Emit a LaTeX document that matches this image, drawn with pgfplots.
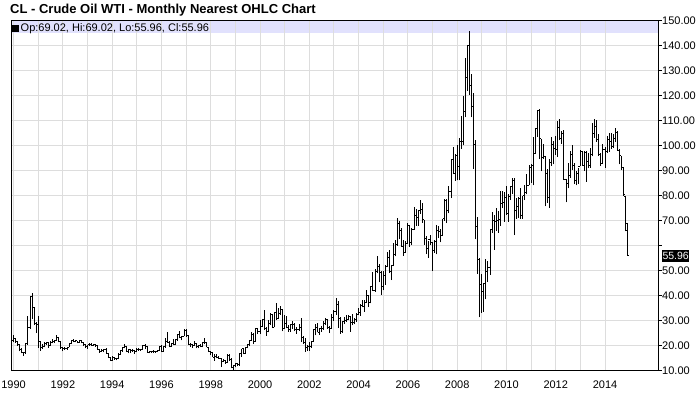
\documentclass[border=0pt]{standalone}
\usepackage{fontspec}
\setmainfont{Liberation Sans}
\usepackage{pgfplots}
\usepackage{pgfplotstable}
\pgfplotsset{compat=1.18}
\definecolor{gridgray}{RGB}{221,221,221}
\definecolor{bandblue}{RGB}{225,225,253}

% open tick to the left, close tick to the right
\pgfdeclareplotmark{ohlcopen}{\pgfpathmoveto{\pgfpoint{-1.5bp}{0pt}}\pgfpathlineto{\pgfpoint{0pt}{0pt}}\pgfusepathqstroke}
\pgfdeclareplotmark{ohlcclose}{\pgfpathmoveto{\pgfpoint{0pt}{0pt}}\pgfpathlineto{\pgfpoint{1.5bp}{0pt}}\pgfusepathqstroke}

% monthly bars, Jan 1990 - Dec 2014: open high low close
\pgfplotstableread{
o h l c
22.0 24.3 21.4 22.7
22.7 23.2 21.1 21.5
21.5 21.8 19.9 20.3
20.3 20.6 17.7 18.5
18.5 19.2 16.9 17.4
17.4 17.6 15.9 17.1
17.1 21.1 16.7 20.7
20.7 31.9 20.4 27.3
27.3 39.5 26.7 39.5
39.5 41.1 30.5 35.2
35.2 35.6 28.2 28.9
28.9 29.3 25.0 28.4
28.4 32.0 19.0 21.5
21.5 22.0 17.9 19.2
19.2 20.5 18.6 19.6
19.6 21.3 19.3 20.8
20.8 21.6 20.2 21.2
21.2 21.3 19.2 20.2
20.2 21.9 20.0 21.4
21.4 22.5 20.9 21.7
21.7 22.4 21.0 22.2
22.2 24.1 22.0 23.3
23.3 23.6 21.3 21.5
21.5 21.6 18.7 19.1
19.1 19.6 17.7 18.9
18.9 19.4 18.2 18.7
18.7 19.6 18.3 19.4
19.4 20.9 19.3 20.8
20.8 22.3 20.6 22.1
22.1 22.8 21.4 21.6
21.6 22.3 21.3 21.9
21.9 22.0 20.9 21.4
21.4 22.3 21.2 21.9
21.9 22.3 20.9 21.3
21.3 21.5 19.8 20.3
20.3 20.5 18.9 19.5
19.5 20.4 18.6 20.3
20.3 21.0 19.9 20.4
20.4 20.9 19.8 20.2
20.2 20.8 19.9 20.4
20.4 20.7 19.6 19.9
19.9 20.0 18.4 18.5
18.5 18.7 17.1 17.8
17.8 18.5 17.6 18.1
18.1 18.8 17.3 18.6
18.6 19.2 16.8 16.9
16.9 17.1 15.0 15.4
15.4 15.5 13.9 14.2
14.2 15.8 14.0 15.2
15.2 15.5 14.3 14.8
14.8 15.0 14.1 14.7
14.7 17.2 14.6 16.4
16.4 18.4 16.3 17.9
17.9 19.6 17.6 19.1
19.1 20.7 18.9 19.6
19.6 19.8 17.4 17.6
17.6 18.5 16.9 18.4
18.4 18.5 17.0 18.2
18.2 18.6 17.6 18.0
18.0 18.0 16.8 17.8
17.8 18.9 17.4 18.4
18.4 18.9 17.9 18.5
18.5 18.7 17.8 18.6
18.6 20.4 18.5 19.9
19.9 20.5 18.5 19.7
19.7 19.8 17.3 17.4
17.4 17.9 16.9 17.6
17.6 18.0 17.2 17.8
17.8 18.1 17.0 17.5
17.5 17.8 17.1 17.6
17.6 18.4 17.4 18.2
18.2 19.7 18.0 19.6
19.6 20.3 17.3 17.7
17.7 19.9 17.5 19.5
19.5 23.0 19.2 21.5
21.5 25.5 21.0 21.2
21.2 21.9 19.3 19.8
19.8 21.2 19.6 20.9
20.9 22.5 20.2 20.4
20.4 22.5 20.3 22.3
22.3 24.8 22.0 24.4
24.4 25.9 22.9 23.4
23.4 24.0 22.1 23.8
23.8 26.6 23.7 25.9
25.9 26.6 23.6 24.2
24.2 24.3 20.2 20.3
20.3 21.2 19.5 20.4
20.4 20.8 19.2 20.2
20.2 21.8 19.9 20.9
20.9 21.2 18.9 19.8
19.8 20.4 18.9 20.1
20.1 20.8 19.3 19.6
19.6 21.5 19.3 21.2
21.2 22.9 20.6 21.1
21.1 21.5 19.3 19.3
19.3 19.5 17.4 17.6
17.6 18.0 16.1 17.2
17.2 17.3 15.4 15.4
15.4 16.7 14.0 15.6
15.6 16.6 14.9 15.4
15.4 15.9 14.6 14.9
14.9 15.1 11.4 13.7
13.7 14.7 13.6 14.1
14.1 14.2 12.7 13.4
13.4 16.6 13.2 16.1
16.1 16.8 13.8 14.4
14.4 14.9 10.9 11.2
11.2 12.4 10.4 12.1
12.1 12.9 11.3 12.8
12.8 13.1 11.7 12.3
12.3 16.8 11.9 16.8
16.8 18.8 15.6 18.7
18.7 19.0 16.6 16.8
16.8 19.4 16.6 19.3
19.3 20.7 18.9 20.5
20.5 22.3 19.7 22.1
22.1 25.3 21.9 24.5
24.5 24.9 20.6 21.8
21.8 26.9 21.7 26.7
26.7 27.2 24.5 25.6
25.6 30.1 24.6 27.6
27.6 30.7 27.4 30.4
30.4 34.4 26.4 26.9
26.9 27.3 23.9 25.7
25.7 30.1 25.3 29.0
29.0 33.0 28.3 32.5
32.5 32.6 27.1 27.4
27.4 33.1 27.3 33.1
33.1 37.2 30.3 30.8
30.8 35.1 30.6 32.7
32.7 36.0 32.3 34.4
34.4 34.6 25.7 26.8
26.8 32.4 26.6 28.7
28.7 32.0 26.9 27.4
27.4 28.3 25.5 26.3
26.3 28.7 25.4 28.5
28.5 29.7 26.8 28.4
28.4 29.0 25.8 26.3
26.3 27.5 24.8 26.4
26.4 28.8 25.9 27.2
27.2 31.0 21.4 23.4
23.4 23.9 20.7 21.2
21.2 23.2 17.5 19.4
19.4 20.4 17.8 19.8
19.8 21.6 17.9 19.5
19.5 21.9 19.2 21.7
21.7 26.5 21.5 26.3
26.3 28.5 24.1 27.3
27.3 29.0 25.3 25.3
25.3 27.2 24.3 26.9
26.9 27.8 25.6 27.0
27.0 29.9 26.3 28.9
28.9 31.0 28.3 30.4
30.4 30.8 26.6 27.2
27.2 27.8 25.0 26.9
26.9 32.7 26.6 31.2
31.2 34.3 30.0 33.5
33.5 39.0 32.3 36.6
36.6 38.0 27.0 31.0
31.0 31.4 24.8 25.8
25.8 29.8 25.0 29.6
29.6 31.6 28.7 30.2
30.2 32.3 29.6 30.5
30.5 32.4 30.3 31.6
31.6 31.8 25.6 29.2
29.2 32.5 28.2 29.1
29.1 31.0 28.5 30.4
30.4 33.0 29.5 32.5
32.5 35.2 32.2 33.1
33.1 36.5 32.0 36.2
36.2 38.4 35.3 35.8
35.8 38.4 33.6 37.4
37.4 42.3 37.1 39.9
39.9 40.0 35.4 37.1
37.1 44.0 36.9 43.8
43.8 49.4 41.9 42.1
42.1 50.5 41.6 49.6
49.6 55.7 48.9 51.8
51.8 52.8 45.3 49.1
49.1 49.8 40.3 43.5
43.5 50.0 42.1 48.2
48.2 52.1 44.4 51.8
51.8 57.6 51.4 55.4
55.4 58.3 49.2 49.7
49.7 52.1 46.2 52.0
52.0 60.9 51.8 56.5
56.5 62.1 55.7 60.6
60.6 70.9 60.0 68.9
68.9 69.9 62.5 66.2
66.2 67.0 59.6 59.8
59.8 62.1 56.0 57.3
57.3 61.9 57.2 61.0
61.0 69.2 60.8 67.9
67.9 68.4 59.5 61.4
61.4 67.1 60.1 66.6
66.6 75.4 66.3 71.9
71.9 74.5 67.9 71.3
71.3 73.9 68.0 73.9
73.9 78.4 72.7 74.4
74.4 77.2 69.2 70.3
70.3 70.3 60.4 62.9
62.9 64.0 56.6 58.7
58.7 62.0 55.1 62.5
62.5 64.3 60.3 61.1
61.1 61.4 49.9 58.1
58.1 62.3 57.1 61.8
61.8 68.1 56.5 65.9
65.9 67.9 63.0 65.7
65.7 66.6 61.3 64.0
64.0 70.7 64.0 70.7
70.7 78.8 69.9 78.2
78.2 78.8 69.0 74.0
74.0 83.9 72.9 81.7
81.7 94.7 79.0 94.5
94.5 99.3 88.6 88.7
88.7 96.8 85.9 96.0
96.0 100.1 86.1 91.8
91.8 103.1 86.1 101.8
101.8 111.8 98.7 101.6
101.6 119.9 100.1 113.5
113.5 135.1 111.3 127.4
127.4 140.4 122.0 140.0
140.0 146.0 120.4 124.1
124.1 128.6 111.3 115.5
115.5 121.0 90.5 100.6
100.6 102.3 62.5 67.8
67.8 71.3 48.7 54.4
54.4 54.9 31.3 44.6
44.6 48.6 33.2 41.7
41.7 45.0 33.6 44.8
44.8 54.7 38.5 49.7
49.7 53.9 45.4 51.1
51.1 66.7 48.3 66.3
66.3 73.4 65.0 69.9
69.9 72.4 58.3 69.5
69.5 75.0 66.0 70.0
70.0 74.0 65.1 70.6
70.6 82.0 68.0 77.0
77.0 82.0 75.0 77.3
77.3 81.4 69.5 79.4
79.4 84.0 72.4 72.9
72.9 80.6 69.5 79.7
79.7 83.9 78.2 83.8
83.8 87.2 80.6 86.2
86.2 87.2 64.2 74.0
74.0 79.0 70.8 75.6
75.6 79.4 71.0 79.0
79.0 82.9 70.8 71.9
71.9 80.0 70.8 80.0
80.0 84.4 78.2 81.4
81.4 88.6 80.5 84.1
84.1 92.1 84.1 91.4
91.4 92.6 85.1 92.2
92.2 103.4 84.1 97.0
97.0 106.9 96.6 106.7
106.7 113.9 103.4 113.9
113.9 114.8 94.6 102.7
102.7 102.7 89.7 95.4
95.4 100.6 94.6 95.7
95.7 95.9 75.7 88.8
88.8 90.5 77.1 79.2
79.2 94.7 75.0 93.2
93.2 103.4 92.0 100.4
100.4 101.8 92.5 98.8
98.8 103.7 96.3 98.5
98.5 109.8 95.4 107.1
107.1 110.6 102.1 103.0
103.0 106.0 100.7 104.9
104.9 106.4 86.2 86.5
86.5 86.8 77.3 85.0
85.0 92.9 82.9 88.1
88.1 97.9 87.1 96.5
96.5 100.4 90.2 92.2
92.2 93.0 84.6 86.2
86.2 90.0 84.1 88.9
88.9 91.0 84.7 91.8
91.8 98.2 91.8 97.5
97.5 98.0 92.0 92.1
92.1 97.8 90.0 97.2
97.2 97.9 85.6 93.5
93.5 97.0 90.9 92.0
92.0 99.0 91.1 96.6
96.6 108.9 95.7 105.0
105.0 110.5 103.0 107.7
107.7 110.2 101.6 102.3
102.3 104.7 95.9 96.4
96.4 96.9 91.8 92.7
92.7 100.8 92.6 98.4
98.4 99.4 91.2 97.5
97.5 104.0 97.0 102.6
102.6 105.2 97.4 101.6
101.6 104.9 98.7 99.7
99.7 104.5 99.2 102.7
102.7 107.2 101.6 105.4
105.4 105.7 97.9 98.2
98.2 98.8 92.5 96.0
96.0 96.0 90.4 91.2
91.2 91.4 80.0 80.5
79.5 79.7 65.7 66.2
69.02 69.02 55.96 55.96
}\oil

\begin{document}
\begin{tikzpicture}
\begin{axis}[
    set layers,
    scale only axis,
    width=647bp, height=350bp,
    at={(11bp,40.3bp)}, anchor=south west,
    xmin=-1.27, xmax=313.8,
    ymin=10, ymax=150,
    clip mode=individual,
    axis line style={line width=1bp, black},
    xtick={0,24,...,288},
    xticklabels={1990,1992,1994,1996,1998,2000,2002,2004,2006,2008,2010,2012,2014},
    minor xtick={12,36,...,276},
    xtick pos=bottom,
    ytick={10,20,...,150},
    yticklabels={10.00,20.00,30.00,40.00,50.00,,70.00,80.00,90.00,100.00,110.00,120.00,130.00,140.00,150.00},
    ytick pos=right,
    yticklabel pos=right,
    tick align=outside,
    major tick length=3.5bp,
    minor tick length=0pt,
    xtick style={draw=none},
    ytick style={line width=1bp, black},
    grid=both,
    major grid style={line width=1bp, gridgray},
    minor grid style={line width=1bp, gridgray},
    ticklabel style={font=\fontsize{11bp}{13bp}\selectfont},
    xticklabel style={anchor=north, inner sep=0pt, yshift=-6bp},
    yticklabel style={anchor=west, inner sep=0pt, xshift=0.5bp},
]
\begin{pgfonlayer}{axis background}
\fill[bandblue] (axis cs:-1.27,145.1) rectangle (axis cs:313.8,150);
\end{pgfonlayer}
% high-low range
\addplot[draw=none, mark=none,
    error bars/.cd, y dir=plus, y explicit, error mark=none,
    error bar style={draw=black, line width=1bp}]
    table[x expr=\coordindex, y=l, y error expr=\thisrow{h}-\thisrow{l}] {\oil};
% open
\addplot[black, only marks, mark=ohlcopen, mark options={line width=1bp}]
    table[x expr=\coordindex, y=o] {\oil};
% close
\addplot[black, only marks, mark=ohlcclose, mark options={line width=1bp}]
    table[x expr=\coordindex, y=c] {\oil};
\coordinate (lastlab) at (axis cs:313.8,55.96);
\end{axis}
\node[anchor=base west, inner sep=0pt, font=\bfseries\fontsize{13bp}{15bp}\selectfont]
    at (10bp,397.5bp) {CL - Crude Oil WTI - Monthly Nearest OHLC Chart};
\fill[black] (12bp,379bp) rectangle (18.5bp,385.5bp);
\node[anchor=base west, inner sep=0pt, font=\fontsize{11bp}{13bp}\selectfont]
    at (20.5bp,379.3bp) {Op:69.02, Hi:69.02, Lo:55.96, Cl:55.96};
\node[anchor=west, fill=black, text=white, inner xsep=0.6bp, inner ysep=0pt,
    minimum height=12bp, font=\fontsize{10.5bp}{12bp}\selectfont]
    at ([xshift=3.7bp]lastlab) {55.96};
\pgfresetboundingbox
\path[use as bounding box] (0,0) rectangle (700bp,411bp);
\end{tikzpicture}
\end{document}
